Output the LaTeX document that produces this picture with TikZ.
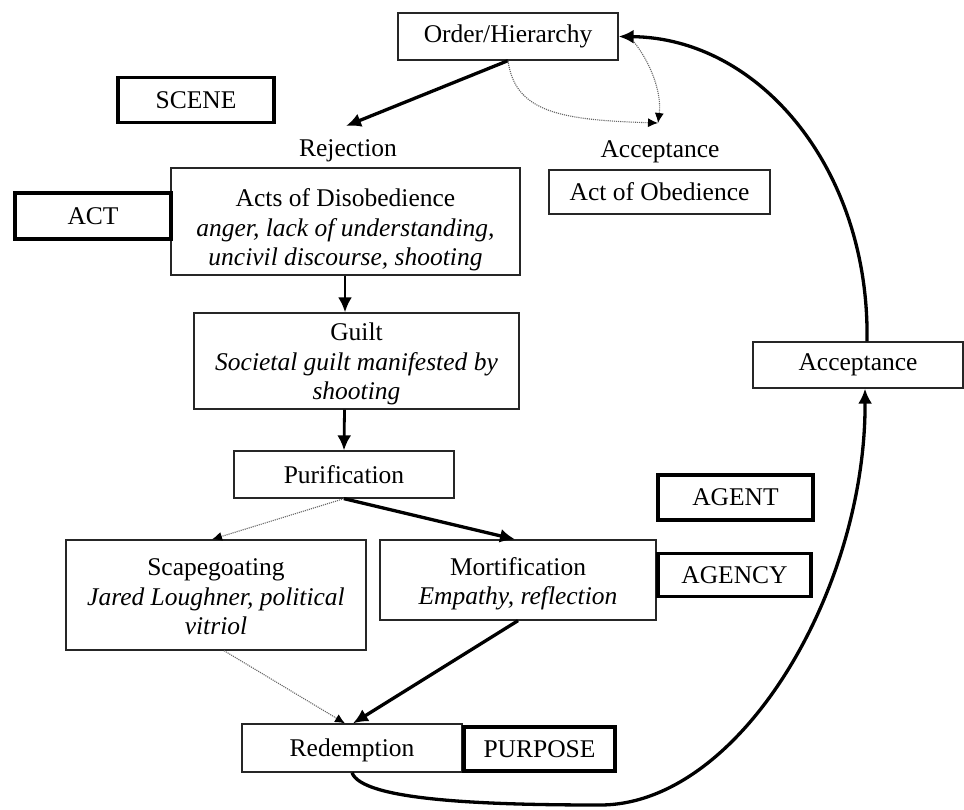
\documentclass[tikz,border=0pt]{standalone}
\usepackage{fontspec}
\setmainfont{Liberation Serif}
\usetikzlibrary{arrows.meta}
\begin{document}
\begin{tikzpicture}[x=1pt,y=-1pt,
  every node/.style={font=\fontsize{25.5}{29.5}\selectfont, text=black},
  thinbox/.style={draw=black!85, line width=1.3pt, inner sep=0pt, align=center, fill=white},
  thickbox/.style={draw=black, line width=3.5pt, inner sep=0pt, align=center, fill=white},
  plain/.style={inner sep=2pt, align=center},
  heavyarrow/.style={draw=black, line width=3.3pt, -{Latex[length=15pt,width=14pt]}},
  dotarrow/.style={draw=black!60, line width=1.1pt, densely dotted, -{Latex[length=10pt,width=9pt,black]}}
]
\useasboundingbox (0,0) rectangle (964,809);

% thin boxes
\node[thinbox, minimum width=220pt, minimum height=47pt] (order) at (508,36.5) {Order/Hierarchy};
\node[plain] (rej) at (348,151) {Rejection};
\node[thinbox, minimum width=349pt, minimum height=107pt] (acts) at (345.5,221.5) {};
\node[plain] (actsText) at (345.5,230)
  {Acts of Disobedience\\ \textit{anger, lack of understanding,}\\ \textit{uncivil discourse, shooting}};
\node[plain] (acc1) at (660,152) {Acceptance};
\node[thinbox, minimum width=221pt, minimum height=44pt] (obed) at (659.5,192) {Act of Obedience};
\node[thinbox, minimum width=325pt, minimum height=96pt] (guilt) at (356.5,361) {};
\node[plain] (guiltText) at (356.5,364)
  {Guilt\\ \textit{Societal guilt manifested by}\\ \textit{shooting}};
\node[thinbox, minimum width=210pt, minimum height=46pt] (accR) at (858,365) {Acceptance};
\node[thinbox, minimum width=220pt, minimum height=47pt] (purif) at (344,474.5) {Purification};
\node[thinbox, minimum width=300pt, minimum height=110pt] (scap) at (216,595) {};
\node[plain] (scapText) at (216,597)
  {Scapegoating\\ \textit{Jared Loughner, political}\\ \textit{vitriol}};
\node[thinbox, minimum width=276pt, minimum height=80pt] (mort) at (518,580) {};
\node[plain] (mortText) at (518,584)
  {Mortification\\ \textit{Empathy, reflection}};
\node[thinbox, minimum width=220pt, minimum height=48pt] (red) at (352,748) {};
\node[plain] (redText) at (352,750) {Redemption};

% thick boxes
\node[thickbox, minimum width=156pt, minimum height=45pt] (scene) at (196,100) {SCENE};
\node[thickbox, minimum width=156pt, minimum height=46pt] (act) at (93,216) {ACT};
\node[thickbox, minimum width=155pt, minimum height=45pt] (agent) at (735.5,497.5) {AGENT};
\node[thickbox, minimum width=153pt, minimum height=43pt] (agency) at (734.5,575) {AGENCY};
\node[thickbox, minimum width=151pt, minimum height=44pt] (purpose) at (539.5,749) {PURPOSE};

% coordinates
\coordinate (rejTop) at (346,126);
\coordinate (accTop) at (658,123);
\coordinate (orderRight) at (634,42);
\coordinate (lowPoint) at (600,805);

% connectors
\draw[heavyarrow] (order.south) -- (rejTop);
\draw[dotarrow] (order.south) .. controls (515,112) and (560,120) .. (accTop);
\draw[dotarrow] (orderRight) .. controls (650,62) and (662,92) .. (accTop);
\draw[heavyarrow, line width=2.8pt] ([xshift=-0.5pt]acts.south) -- ([xshift=-11.5pt]guilt.north);
\draw[heavyarrow, line width=2.8pt] ([xshift=-12pt]guilt.south) -- (purif.north);
\draw[dotarrow] (purif.south) -- ([xshift=-4pt]scap.north);
\draw[heavyarrow] (purif.south) -- ([xshift=-3pt]mort.north);
\draw[dotarrow] ([xshift=8pt]scap.south) -- ([xshift=-7pt]red.north);
\draw[heavyarrow] (mort.south) -- ([xshift=1pt]red.north);
\draw[heavyarrow] (red.south) .. controls (362,800) and (480,805) .. (lowPoint)
  .. controls (740,805) and (866,590) .. ([xshift=7pt]accR.south);
\draw[heavyarrow] ([xshift=9pt]accR.north) .. controls (870,170) and (760,38) .. (order.east);
\end{tikzpicture}
\end{document}
